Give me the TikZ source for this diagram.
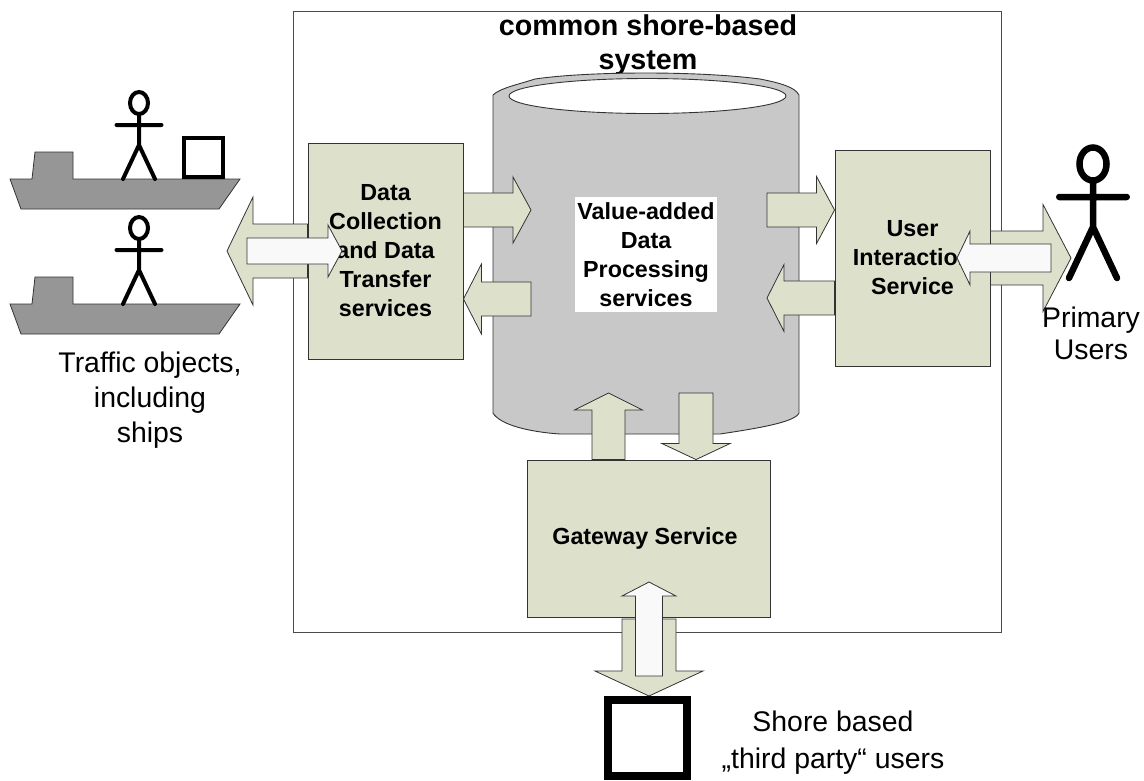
\documentclass[tikz,border=0pt]{standalone}
\usepackage{fontspec}
\setmainfont{Liberation Sans}
\usetikzlibrary{calc,shapes.geometric}
\definecolor{boxgreen}{HTML}{DDE1CC}
\definecolor{tankgray}{HTML}{C8C8C8}
\definecolor{hullgray}{HTML}{969696}
\definecolor{arrowwhite}{HTML}{F9F9F9}
\newcommand{\blockarrow}[6][greenarrow]{%
    \draw[#1] (#2) -- ($(#2)!#4pt!90:(#3)$) -- ($(#3)!#5pt!(#2)!#4pt!90:(#3)$)
        -- ($(#3)!#5pt!(#2)!#6pt!90:(#3)$) -- (#3)
        -- ($(#3)!#5pt!(#2)!#6pt!-90:(#3)$) -- ($(#3)!#5pt!(#2)!#4pt!-90:(#3)$)
        -- ($(#2)!#4pt!-90:(#3)$) -- cycle;}
\begin{document}
\begin{tikzpicture}[x=1pt, y=-1pt, line join=miter,
    greenbox/.style={draw=black!80, fill=boxgreen, line width=0.9pt, inner sep=0pt,
        align=center, font=\fontsize{23.3}{29}\selectfont\bfseries},
    greenarrow/.style={draw=black!80, fill=boxgreen, line width=0.8pt},
    whitearrow/.style={draw=black!80, fill=arrowwhite, line width=0.8pt},
    boldlabel/.style={align=center, inner sep=0pt, font=\fontsize{28.7}{34}\selectfont\bfseries},
    userlabel/.style={align=center, inner sep=0pt, font=\fontsize{28.4}{32}\selectfont},
    stickman/.pic={
        \draw[line cap=round] (0,0) ellipse [x radius=9, y radius=11]
            (0,11) -- (0,42) (-22.5,22) -- (22.5,22)
            (-16,76) -- (0,42) -- (16,76);
    }]
    \useasboundingbox (0,0) rectangle (1144,780);
    \node[draw=black!70, line width=0.9pt, minimum width=708pt, minimum height=621pt,
        inner sep=0pt] (frame) at (647,321.5) {};
    \node[boldlabel] (title) at (648,45) {common shore-based\\system};

    \draw[draw=black!80, fill=tankgray, line width=0.9pt] (493,95)
        .. controls (500,88) and (520,84) .. (535,79)
        .. controls (590,71) and (700,71) .. (760,79)
        .. controls (780,83) and (795,87) .. (799,95)
        -- (799,413) .. controls (795,422) and (760,428) .. (720,434)
        -- (560,434) .. controls (530,432) and (500,425) .. (493,413) -- cycle;
    \node[draw=black!80, fill=white, ellipse, line width=0.9pt, minimum width=277pt,
        minimum height=35pt, inner sep=0pt] (tanktop) at (647.5,96) {};
    \node[fill=white, align=center, minimum width=142pt, minimum height=115pt, inner sep=0pt,
        font=\fontsize{23.3}{29}\selectfont\bfseries] (process) at (646,254.5)
        {Value-added\\Data\\Processing\\services};

    \node[greenbox, minimum width=155pt, minimum height=216pt] (collect) at (385.5,251)
        {Data\\Collection\\and Data\\Transfer\\services};
    \node[greenbox, minimum width=155pt, minimum height=216pt] (interact) at (912.5,258)
        {User\\Interaction\\Service};
    \node[greenbox, minimum width=243pt, minimum height=157pt] (gateway) at (648.5,538.5)
        {\hspace*{-7pt}Gateway Service};

    \coordinate (collectout) at (collect.east |- 0,210);
    \coordinate (tankin) at (531,210);
    \coordinate (tankout) at (531,299);
    \coordinate (collectin) at (collect.east |- 0,299);
    \blockarrow{collectout}{tankin}{17}{18}{33}
    \blockarrow{tankout}{collectin}{17}{18}{35}

    \coordinate (tankright) at (767,210);
    \coordinate (interactin) at (interact.west |- 0,210);
    \coordinate (interactout) at (interact.west |- 0,298);
    \coordinate (tankback) at (767,298);
    \blockarrow{tankright}{interactin}{17}{18}{33.5}
    \blockarrow{interactout}{tankback}{17}{17}{33.5}

    \coordinate (gateup) at (gateway.north -| 608.5,0);
    \coordinate (tankdown) at (608.5,393);
    \coordinate (tankbottom) at (696,393);
    \coordinate (gatedown) at (gateway.north -| 696,0);
    \blockarrow{gateup}{tankdown}{16.5}{17}{34}
    \blockarrow{tankbottom}{gatedown}{17}{16}{34}

    \coordinate (collectleft) at (collect.west |- 0,251);
    \coordinate (shipside) at (227,251);
    \blockarrow{collectleft}{shipside}{27}{26}{54}
    \coordinate (interactright) at (interact.east |- 0,258);
    \coordinate (userside) at (1071,258);
    \blockarrow{interactright}{userside}{27}{28}{53.5}

    \coordinate (gatelow) at (649,619);
    \coordinate (thirdtop) at (649,696);
    \blockarrow{gatelow}{thirdtop}{27}{25}{54}

    \coordinate (shipback) at (247,251);
    \coordinate (collectmid) at (342,251);
    \blockarrow[whitearrow]{shipback}{collectmid}{13}{14}{26}
    \coordinate (userback) at (1051,258);
    \coordinate (interactmid) at (957,258);
    \blockarrow[whitearrow]{userback}{interactmid}{14}{13}{27}
    \coordinate (thirdback) at (649,676);
    \coordinate (gatemid) at (649,582);
    \blockarrow[whitearrow]{thirdback}{gatemid}{13.5}{14}{27}

    \foreach \yship in {0,125} {
        \draw[draw=black!80, fill=hullgray, line width=0.8pt, yshift=-\yship pt]
            (10,179) -- (32,179) -- (35,152) -- (73,152) -- (73,179) -- (240,179)
            -- (219,209) -- (21,209) -- cycle;
        \pic[line width=4pt] at (139,103+\yship) {stickman};
    }
    \node[draw, line width=4pt, minimum size=39pt, inner sep=0pt] (cargo) at (203.5,157.5) {};
    \pic[line width=6.5pt, scale=1.5] at (1093,164) {stickman};
    \node[draw, line width=7.5pt, minimum width=79pt, minimum height=76pt, inner sep=0pt]
        (thirdparty) at (647.5,738) {};

    \node[userlabel, font=\fontsize{28.4}{35}\selectfont] (traffic) at (150,400)
        {Traffic objects,\\including\\ships};
    \node[userlabel] (primary) at (1091,333) {Primary\\Users};
    \node[userlabel, font=\fontsize{28.4}{37}\selectfont] (shore) at (833,743)
        {Shore based\\„third party“ users};
\end{tikzpicture}
\end{document}
